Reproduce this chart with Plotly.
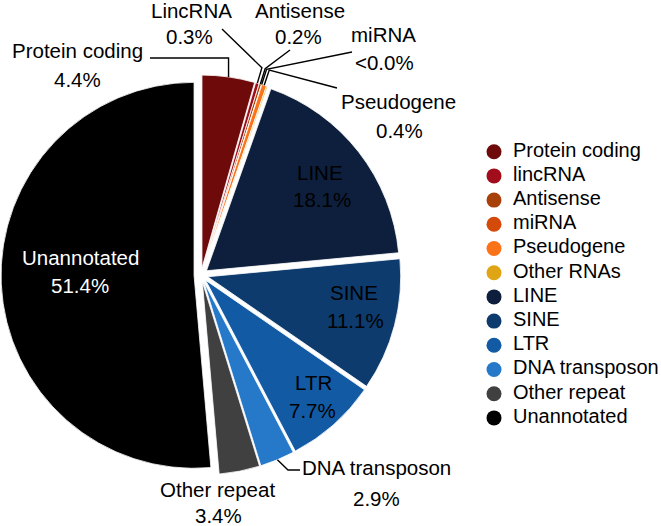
import math
import plotly.graph_objects as go

# ---------------- data ----------------
categories = ["Protein coding", "lincRNA", "Antisense", "miRNA", "Pseudogene", "Other RNAs",
              "LINE", "SINE", "LTR", "DNA transposon", "Other repeat", "Unannotated"]
percent = [4.4, 0.3, 0.2, 0.02, 0.4, 0.1, 18.1, 11.1, 7.7, 2.9, 3.4, 51.4]
slice_names = ["Protein coding", "LincRNA", "Antisense", "miRNA", "Pseudogene", "",
               "LINE", "SINE", "LTR", "DNA transposon", "Other repeat", "Unannotated"]
percent_text = ["4.4%", "0.3%", "0.2%", "&lt;0.0%", "0.4%", "",
                "18.1%", "11.1%", "7.7%", "2.9%", "3.4%", "51.4%"]
colors = ["#6e0a0a", "#a10d1a", "#a8400a", "#d44a0a", "#fb7318", "#e0a515",
          "#0d1f3c", "#0d3b6d", "#135aa5", "#2678c8", "#404040", "#000000"]

# ---------------- geometry / style ----------------
W, H = 661, 526
CX, CY, R = 201, 275, 193      # pie centre and radius in pixels
PULL = 0.036
FONT = "Liberation Sans, Arial, Helvetica, sans-serif"
LABEL_SIZE = 20.5
LEGEND_SIZE = 20


def paper(x, y):
    return x / W, 1 - y / H


half = R * (1 + PULL)
dx0, dy0 = paper(CX - half, CY + half)
dx1, dy1 = paper(CX + half, CY - half)

total = sum(percent)
mids = []
cum = 0.0
for v in percent:
    mids.append((cum + v / 2) / total * 360.0)
    cum += v


def edge(i, extra=0.0):
    a = math.radians(mids[i])
    rr = R * (1 + PULL) + extra
    return CX + rr * math.sin(a), CY - rr * math.cos(a)


fig = go.Figure()
fig.add_trace(go.Pie(
    labels=categories, values=percent, sort=False, direction="clockwise", rotation=0,
    pull=[PULL] * len(percent), textinfo="none", showlegend=False,
    marker=dict(colors=colors, line=dict(color="white", width=0.8)),
    domain=dict(x=[dx0, dx1], y=[dy0, dy1]),
))

# label placement (pixel centres of name line / value line)
label_pos = {
    0: ((77, 50), (77, 79), "black"),
    1: ((191, 10), (190, 37), "black"),
    2: ((300, 10), (298, 37), "black"),
    3: ((383, 34), (384, 62), "black"),
    4: ((398, 101), (399, 130), "black"),
    6: ((320, 172), (322, 200), "black"),
    7: ((354, 292), (355, 320), "black"),
    8: ((313, 382), (312, 410), "black"),
    9: ((376, 468), (376, 498), "black"),
    10: ((217, 489), (218, 515), "black"),
    11: ((80, 257), (80, 285), "white"),
}

annotations = []
for i, (npos, vpos, col) in label_pos.items():
    for txt, (x, y) in ((slice_names[i], npos), (percent_text[i], vpos)):
        px_, py_ = paper(x, y)
        annotations.append(dict(
            x=px_, y=py_, xref="paper", yref="paper", text=txt, showarrow=False,
            xanchor="center", yanchor="middle",
            font=dict(family=FONT, size=LABEL_SIZE, color=col)))

# leader lines
e0 = edge(0)
leaders = [
    [(150, 58), (e0[0], 58), e0],
    [(222, 29), edge(1, 16), edge(1)],
    [(290, 50), edge(2, 16), edge(2)],
    [(352, 52), edge(3, 16), edge(3)],
    [(337, 88), edge(4, 16), edge(4)],
    [(300, 470), (288, 470), edge(9)],
]
shapes = []
for pts in leaders:
    coords = [paper(x, y) for x, y in pts]
    path = "M " + " L ".join(f"{x:.5f},{y:.5f}" for x, y in coords)
    shapes.append(dict(type="path", path=path, xref="paper", yref="paper",
                       line=dict(color="black", width=1.4)))

# legend drawn as circle markers + text on a hidden axis
idx = list(range(len(categories)))
LEG_X, LEG_TOP, LEG_STEP = 494, 151.7, 24.2
fig.add_trace(go.Scatter(
    x=[0] * len(categories), y=idx, mode="markers", showlegend=False, hoverinfo="skip",
    marker=dict(color=colors, size=15, line=dict(width=0)), cliponaxis=False,
))
fig.add_trace(go.Scatter(
    x=[19] * len(categories), y=idx, mode="text", text=categories, showlegend=False,
    textposition="middle right", hoverinfo="skip", cliponaxis=False,
    textfont=dict(family=FONT, size=LEGEND_SIZE, color="black"),
))
y_top_px = LEG_TOP - LEG_STEP / 2
y_bot_px = LEG_TOP + LEG_STEP * (len(categories) - 0.5)
fig.update_xaxes(domain=[LEG_X / W, 1], range=[0, W - LEG_X], visible=False)
fig.update_yaxes(domain=[1 - y_bot_px / H, 1 - y_top_px / H],
                 range=[len(categories) - 0.5, -0.5], visible=False)

fig.update_layout(
    width=W, height=H, margin=dict(l=0, r=0, t=0, b=0),
    paper_bgcolor="white", plot_bgcolor="white",
    annotations=annotations, shapes=shapes,
    font=dict(family=FONT),
)

fig.write_html("out.html", config={"displayModeBar": False},
               post_script="document.body.style.margin='0px';")
